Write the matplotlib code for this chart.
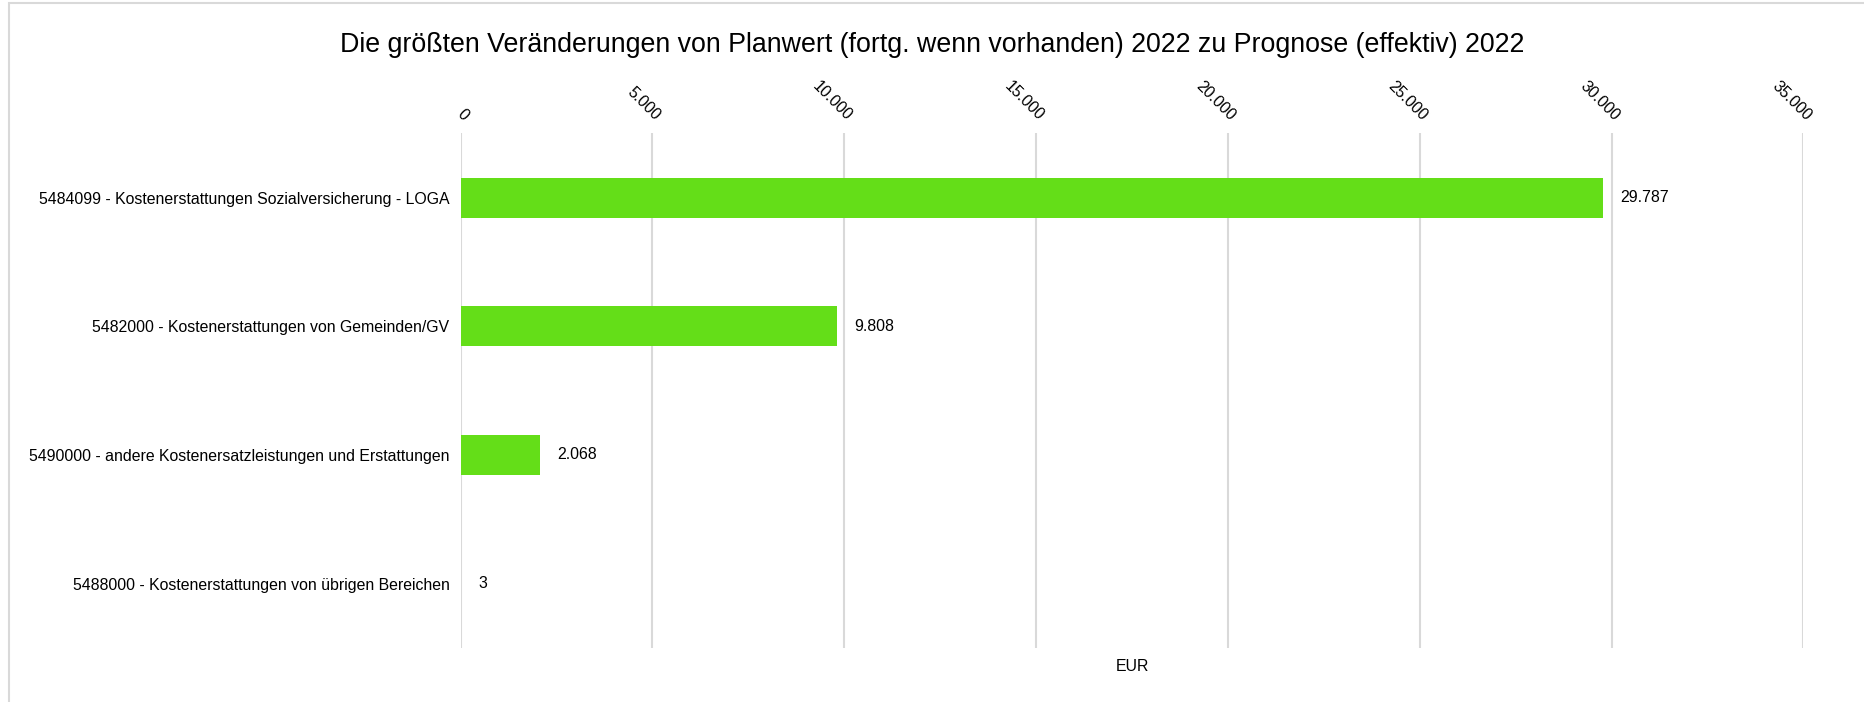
import matplotlib.pyplot as plt
from matplotlib.patches import Rectangle

plt.rcParams['font.family'] = ['Liberation Sans', 'DejaVu Sans']

# Daten
kategorien = [
    "5484099 - Kostenerstattungen Sozialversicherung - LOGA",
    "5482000 - Kostenerstattungen von Gemeinden/GV",
    "5490000 - andere Kostenersatzleistungen und Erstattungen",
    "5488000 - Kostenerstattungen von übrigen Bereichen",
]
werte = [29787, 9808, 2068, 3]
ticks = [0, 5000, 10000, 15000, 20000, 25000, 30000, 35000]

def de_format(v):
    return "{:,.0f}".format(v).replace(",", ".")

fig = plt.figure(figsize=(18.65, 7.02), dpi=100)
ax = fig.add_axes([0.247, 0.077, 0.72, 0.733])

# Rahmen um die Grafik
fig.patches.append(Rectangle((0.005, -0.01), 1.2, 1.006, transform=fig.transFigure,
                             fill=False, edgecolor='#d9d9d9', linewidth=1.5))

y = list(range(len(kategorien)))
ax.barh(y, werte, height=0.31, color='#64de18', zorder=3)
ax.set_ylim(len(kategorien) - 0.5, -0.5)
ax.set_xlim(0, 35000)

ax.set_yticks(y)
ax.set_yticklabels(kategorien, fontsize=11.4)
ax.tick_params(axis='y', length=0, pad=8)

ax.xaxis.tick_top()
ax.set_xticks(ticks)
ax.set_xticklabels([de_format(t) for t in ticks], fontsize=11.4, rotation=-45,
                   ha='right', va='bottom', rotation_mode='anchor')
ax.tick_params(axis='x', length=0, pad=7)
ax.grid(axis='x', color='#d9d9d9', linewidth=1.5, zorder=0)

for s in ax.spines.values():
    s.set_visible(False)

for yi, v in zip(y, werte):
    ax.text(v + 450, yi, de_format(v), va='center', ha='left', fontsize=11.4)

ax.set_xlabel("EUR", fontsize=11.4)
ax.xaxis.set_label_position('bottom')
ax.xaxis.labelpad = 8

fig.suptitle("Die größten Veränderungen von Planwert (fortg. wenn vorhanden) 2022 zu Prognose (effektiv) 2022",
             fontsize=19.3, y=0.955)

fig.savefig("out.png", dpi=100)
